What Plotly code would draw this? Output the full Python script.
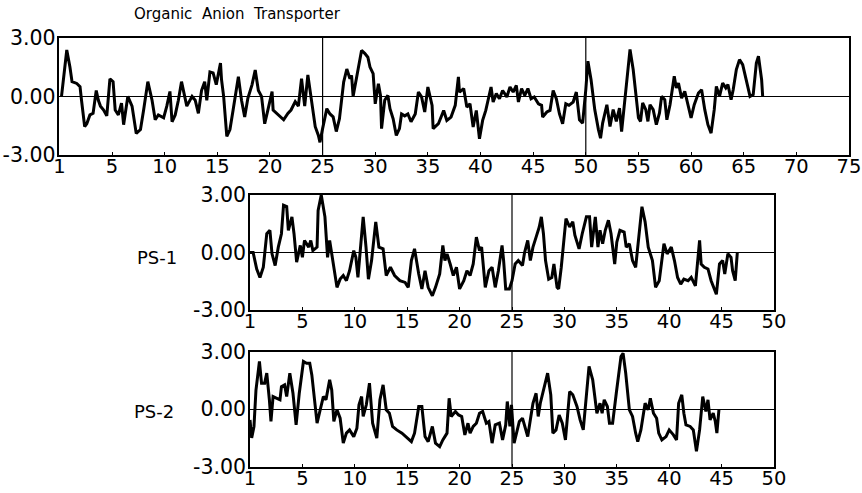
import plotly.graph_objects as go

# ---------------- data ----------------
oat_x = [0.2,0.7,1.0,1.2,1.65,1.96,2.1,2.4,2.6,2.9,3.2,3.5,3.7,3.9,4.2,4.5,4.8,5.1,5.3,5.6,5.9,6.1,6.5,6.9,7.3,7.7,8.0,8.4,8.8,9.1,9.4,9.9,10.2,10.5,10.7,11.0,11.3,11.6,11.9,12.1,12.6,12.9,13.2,13.5,13.8,14.0,14.3,14.6,14.9,15.3,15.4,15.6,15.9,16.2,16.5,17.0,17.3,17.6,17.9,18.3,18.6,18.9,19.2,19.5,19.8,20.2,20.3,20.8,21.3,21.7,22.0,22.4,22.7,23.0,23.3,23.6,23.9,24.3,24.6,
         24.75,25.0,25.4,25.7,26.0,26.3,26.6,27.0,27.3,27.6,27.75,27.9,28.2,28.5,28.7,29.0,29.3,29.5,29.8,30.0,30.3,30.5,30.6,30.9,31.2,31.4,31.7,32.0,32.3,32.5,32.8,33.1,33.4,33.8,34.1,34.4,34.7,35.0,35.4,35.5,36.0,36.5,36.8,37.2,37.6,37.9,38.0,38.4,38.7,39.0,39.3,39.6,39.9,40.2,40.5,41.0,41.2,41.5,41.8,42.1,42.5,42.8,43.1,43.4,43.6,43.9,44.2,44.5,44.8,45.1,45.5,45.8,45.9,46.3,46.6,46.9,47.2,47.5,47.8,48.1,48.4,48.8,49.1,49.4,49.7,
         50.0,50.2,50.5,50.85,51.2,51.4,51.6,52.0,52.3,52.6,52.9,53.2,53.4,53.7,53.9,54.2,54.5,54.8,55.0,55.2,55.4,55.7,55.9,56.1,56.4,56.7,57.0,57.2,57.5,57.7,58.0,58.4,58.6,58.8,59.1,59.4,59.7,60.0,60.3,60.7,61.0,61.3,61.6,61.9,62.2,62.4,62.7,63.0,63.3,63.5,63.8,64.0,64.3,64.6,64.9,65.2,65.6,65.9,66.2,66.4,66.7,66.8]
oat_y = [0.0,2.37,1.5,0.75,0.66,0.5,-0.2,-1.55,-1.4,-0.95,-0.87,0.3,-0.2,-0.5,-0.7,-1.0,0.9,0.75,-0.7,-0.95,-0.35,-1.45,0.0,-0.5,-1.9,-1.7,-0.7,0.75,-0.2,-1.2,-0.95,-1.1,-0.5,0.25,-1.3,-0.95,-0.2,0.75,0.0,-0.5,0.0,-0.2,-0.87,0.3,0.75,-0.2,1.25,1.2,0.6,1.7,0.85,0.0,-2.05,-1.7,-0.7,1.0,-0.2,-1.05,-0.1,0.6,1.35,0.3,0.0,-1.4,-0.7,0.25,-0.7,-0.95,-1.2,-0.87,-0.7,-0.27,-0.5,0.9,-0.5,1.1,0.0,-1.55,-2.0,
         -2.35,-1.65,-0.63,-0.9,-1.05,-1.8,-1.15,0.73,1.4,0.9,1.08,0.0,0.9,1.93,2.35,2.2,2.0,1.5,1.16,-0.38,0.65,0.05,-1.65,-0.2,0.05,-0.63,-1.15,-2.0,-1.65,-0.9,-1.0,-0.9,-1.3,-0.9,0.22,-0.03,-0.8,0.48,-0.46,-1.65,-1.4,-0.72,-1.23,-1.06,-0.46,1.0,0.22,0.4,-0.55,-0.38,-1.57,-0.72,-2.17,-1.23,-0.72,0.48,-0.29,0.14,-0.12,0.3,-0.03,0.48,0.22,0.56,-0.29,0.4,0.05,0.4,-0.12,-0.03,-0.38,-0.46,-1.06,-0.8,-0.72,0.3,-0.12,-0.9,-1.4,-0.38,-0.46,-0.29,0.22,-1.2,-1.37,
         0.34,1.8,0.85,-0.68,-1.7,-2.14,-1.37,-0.43,-1.54,-0.68,-1.28,-0.6,-1.8,-0.26,0.6,2.4,1.37,0.0,-1.1,-1.28,-0.34,-0.68,-1.28,-0.43,-0.68,-1.45,-0.85,0.0,-0.17,-1.2,-0.43,1.03,0.43,0.68,-0.09,0.26,-0.43,-1.1,-0.43,0.17,0.34,-0.68,-1.45,-1.88,-0.68,0.51,0.0,0.68,0.43,0.6,-0.17,0.34,1.37,1.88,1.62,0.85,0.0,0.09,1.7,2.05,0.85,0.0]

ps1_x = [0,0.3,0.64,0.95,1.27,1.6,1.9,2.1,2.4,2.7,3.0,3.2,3.5,3.66,4.0,4.2,4.45,4.8,5.0,5.2,5.6,5.8,6.0,6.4,6.5,6.8,7.15,7.4,7.6,7.9,8.3,8.6,8.9,9.2,9.5,9.9,10.1,10.3,10.6,10.8,11.07,11.3,11.6,11.8,12.0,12.3,12.7,13.0,13.4,13.8,14.3,14.8,15.1,15.4,15.7,16.1,16.4,16.7,17.0,17.4,17.7,18.1,18.4,18.6,18.8,19.1,19.4,19.7,20.0,20.4,20.7,21.0,21.3,21.6,21.9,22.1,22.45,22.8,23.1,23.4,23.7,24.05,24.2,24.4,24.75,25.0,25.3,25.6,26.0,26.2,26.5,26.75,27.0,27.3,27.6,27.8,28.0,28.2,28.5,28.8,29.0,29.3,29.45,29.7,30.0,30.15,30.5,30.8,31.0,31.4,31.7,32.1,32.4,32.6,32.95,33.2,33.4,33.65,33.9,34.2,34.45,34.8,35.0,35.3,35.7,35.9,36.2,36.5,36.8,37.1,37.4,37.7,38.0,38.4,38.7,39.05,39.3,39.5,39.8,40.2,40.5,40.8,41.1,41.4,41.8,42.1,42.5,42.9,43.05,43.35,43.7,44.0,44.5,44.8,45.1,45.3,45.6,45.9,46.05,46.3,46.5]
ps1_y = [0,0,-0.86,-1.3,-0.77,0.98,1.16,-0.07,-0.68,0.28,0.98,2.47,2.4,1.16,1.86,0.98,-0.5,0.37,-0.25,0.63,0.28,0.63,0.1,0.28,2.2,3.0,1.86,-0.25,0.63,-0.42,-1.82,-1.39,-1.2,-1.47,-0.95,0.1,-0.25,-1.3,0.8,1.86,0.28,-1.39,-0.42,0.63,1.6,0.28,0.19,-1.2,-0.77,-1.2,-1.47,-1.56,-1.82,-0.42,0.19,-1.12,-1.9,-0.95,-1.82,-2.26,-1.82,-1.12,0.37,-0.42,-0.07,-0.6,-1.2,-0.77,-1.9,-1.47,-0.95,-1.2,-0.6,0.8,0.1,0.28,-1.82,-0.95,-0.77,-1.82,-0.95,0.37,-0.42,-1.9,-1.9,-1.47,-0.6,-0.42,-0.68,0.0,0.63,-0.42,0.28,0.8,1.33,1.86,0.98,-0.42,-1.39,-1.3,-0.6,-1.82,-1.9,-0.77,1.16,1.77,1.33,1.6,0.9,0.19,0.98,1.86,1.86,0.28,1.86,0.28,1.16,0.46,1.16,1.68,0.98,-0.6,0.54,1.16,1.07,0.28,0.46,-0.42,-0.77,0.98,2.39,1.6,0.28,-0.42,-1.82,-1.47,-0.42,0.46,-0.07,0.28,-0.42,-1.3,-1.65,-1.39,-1.47,-1.3,-1.74,0.63,-0.6,-0.77,-0.86,-1.47,-2.18,-0.6,-0.42,-1.12,-0.07,-0.25,-0.95,-1.47,0.0]

ps2_x = [0,0.16,0.38,0.57,0.9,1.1,1.4,1.6,1.85,2.0,2.2,2.5,2.86,3.0,3.3,3.5,3.8,4.1,4.4,4.7,5.1,5.4,5.7,5.9,6.2,6.4,6.7,7.0,7.25,7.6,7.8,8.0,8.3,8.6,8.9,9.2,9.5,9.9,10.2,10.4,10.65,10.8,11.1,11.4,11.7,12.1,12.4,12.7,13.0,13.3,13.6,14.0,14.5,14.9,15.4,15.7,16.1,16.4,16.7,17.0,17.4,17.7,18.1,18.4,18.8,19.0,19.2,19.6,19.9,20.2,20.5,20.8,21.0,21.3,21.6,21.9,22.2,22.55,22.8,23.1,23.4,23.8,24.1,24.4,24.55,24.8,24.95,25.2,25.4,25.7,26.0,26.2,26.5,26.8,27.0,27.3,27.5,27.7,28.0,28.2,28.4,28.7,28.9,29.2,29.5,29.8,30.1,30.5,30.8,31.2,31.5,31.8,32.1,32.35,32.7,32.9,33.1,33.4,33.6,33.8,34.1,34.3,34.6,34.95,35.2,35.4,35.6,35.85,36.2,36.5,36.8,37.0,37.3,37.7,38.0,38.2,38.5,38.8,39.0,39.3,39.7,40.0,40.4,40.7,40.9,41.2,41.4,41.6,42.0,42.3,42.6,42.9,43.2,43.5,43.7,43.9,44.2,44.4,44.55,44.75]
ps2_y = [-0.56,-1.5,-0.9,1.0,2.49,1.36,1.36,1.88,0.49,-0.64,0.66,0.57,0.49,1.18,1.27,0.66,1.88,0.83,-0.82,0.83,2.49,2.4,2.4,1.79,0.31,-0.73,-0.03,0.66,0.49,1.53,1.0,-0.64,-0.03,-0.47,-1.77,-1.25,-1.08,-1.43,-0.99,0.23,0.66,-0.38,0.23,1.36,-0.73,-1.51,0.49,1.27,-0.03,-0.21,-0.9,-1.08,-1.25,-1.43,-1.69,-1.25,0.14,0.14,-1.43,-1.69,-0.9,-1.77,-1.95,-1.6,-1.25,0.57,-0.38,-0.12,-0.3,-0.38,-1.34,-0.73,-1.25,-0.9,-0.73,-0.21,-0.12,-0.73,-0.64,-1.77,-0.82,-0.73,-1.6,-0.82,0.4,-0.9,0.23,-1.77,-1.25,-0.64,-0.47,-0.82,-1.43,-0.38,0.31,0.83,-0.38,0.31,1.0,1.36,1.88,0.75,-1.25,-1.08,-0.3,-0.73,-1.6,0.92,0.75,0.14,-0.56,-1.08,0.66,2.23,1.53,0.66,-0.21,0.31,-0.21,0.49,0.14,-0.73,-0.73,0.83,1.88,2.75,2.92,1.88,-0.03,-0.38,-1.25,-1.69,-1.08,0.31,-0.03,0.57,-0.21,-0.47,-1.25,-1.6,-1.43,-1.08,-1.34,-1.6,0.31,0.75,-0.21,-0.82,-0.9,-1.08,-2.2,-1.08,0.66,-0.12,0.49,-0.56,-0.21,-0.64,-1.25,0.0]

top_ticks = [0, 5, 10, 15, 20, 25, 30, 35, 40, 45, 50, 55, 60, 65, 70, 75]
top_ticktext = ["1", "5", "10", "15", "20", "25", "30", "35", "40", "45", "50", "55", "60", "65", "70", "75"]
sub_ticks = [0, 5, 10, 15, 20, 25, 30, 35, 40, 45, 50]
sub_ticktext = ["1", "5", "10", "15", "20", "25", "30", "35", "40", "45", "50"]
y_ticks = [-3, 0, 3]
y_ticktext = ["-3.00", "0.00", "3.00"]
top_dividers = [25, 50]
sub_dividers = [25]

title_text = "Organic  Anion  Transporter"
panel_labels = ["PS-1", "PS-2"]

# ---------------- figure ----------------
W, H = 862, 493
FONT = "DejaVu Sans, Liberation Sans, Arial, sans-serif"

fig = go.Figure()
line_style = dict(color="black", width=3)
fig.add_trace(go.Scatter(x=oat_x, y=oat_y, mode="lines", line=line_style, xaxis="x", yaxis="y"))
fig.add_trace(go.Scatter(x=ps1_x, y=ps1_y, mode="lines", line=line_style, xaxis="x2", yaxis="y2"))
fig.add_trace(go.Scatter(x=ps2_x, y=ps2_y, mode="lines", line=line_style, xaxis="x3", yaxis="y3"))

def px_x(p):
    return p / W

def px_y(p):
    return 1 - p / H

def xaxis(dom, rng, tv, tt, anchor):
    return dict(domain=dom, range=rng, tickvals=tv, ticktext=tt, anchor=anchor, automargin=False,
                showline=True, mirror=True, linecolor="black", linewidth=1.5,
                ticks="inside", ticklen=3, tickcolor="black", showgrid=False, zeroline=False,
                tickfont=dict(family=FONT, size=19.5, color="black"), ticklabelstandoff=-7)

def yaxis(dom, anchor):
    return dict(domain=dom, range=[-3, 3], tickvals=y_ticks, ticktext=y_ticktext, anchor=anchor, automargin=False,
                showline=True, mirror=True, linecolor="black", linewidth=1.5,
                ticks="", showgrid=False, zeroline=True, zerolinecolor="black", zerolinewidth=1.3,
                tickfont=dict(family=FONT, size=20.5, color="black"), ticklabelstandoff=-2)

fig.update_layout(
    width=W, height=H, margin=dict(l=0, r=0, t=0, b=0, autoexpand=False),
    paper_bgcolor="white", plot_bgcolor="white", showlegend=False,
    xaxis=xaxis([px_x(59.4), px_x(849)], [0, 75], top_ticks, top_ticktext, "y"),
    yaxis=yaxis([px_y(155), px_y(37.7)], "x"),
    xaxis2=xaxis([px_x(250), px_x(774)], [0, 50], sub_ticks, sub_ticktext, "y2"),
    yaxis2=yaxis([px_y(310), px_y(195)], "x2"),
    xaxis3=xaxis([px_x(250), px_x(774)], [0, 50], sub_ticks, sub_ticktext, "y3"),
    yaxis3=yaxis([px_y(466.7), px_y(351.7)], "x3"),
)

for xv in top_dividers:
    fig.add_shape(type="line", xref="x", yref="y domain", x0=xv, x1=xv, y0=0, y1=1,
                  line=dict(color="black", width=1.2))
for ax in ["x2", "x3"]:
    for xv in sub_dividers:
        fig.add_shape(type="line", xref=ax, yref=ax.replace("x", "y") + " domain", x0=xv, x1=xv, y0=0, y1=1,
                      line=dict(color="black", width=1.2))

fig.add_annotation(text=title_text, xref="paper", yref="paper", x=px_x(237), y=px_y(14),
                   xanchor="center", yanchor="middle",
                   showarrow=False, font=dict(family=FONT, size=15, color="black"))
fig.add_annotation(text=panel_labels[0], xref="paper", yref="paper", x=px_x(157), y=px_y(257),
                   xanchor="center", yanchor="middle",
                   showarrow=False, font=dict(family=FONT, size=18, color="black"))
fig.add_annotation(text=panel_labels[1], xref="paper", yref="paper", x=px_x(154), y=px_y(411),
                   xanchor="center", yanchor="middle",
                   showarrow=False, font=dict(family=FONT, size=18, color="black"))

# remove the page's default body margin so the figure fills the window exactly
fig.write_html("out.html", config={"displayModeBar": False},
               post_script="document.body.style.margin='0';")
